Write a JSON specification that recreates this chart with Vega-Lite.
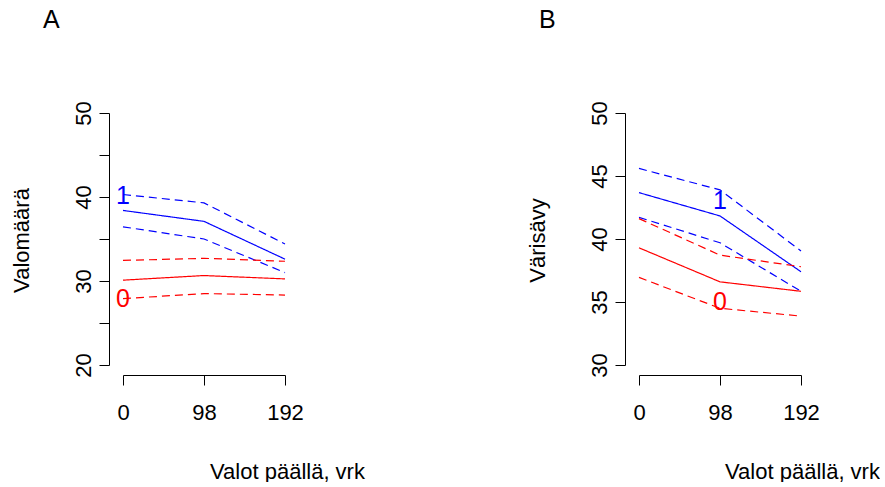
{
  "$schema": "https://vega.github.io/schema/vega-lite/v6.json",
  "padding": {"left": 10, "top": 7, "right": 0, "bottom": 0},
  "background": "white",
  "datasets": {
    "linjat": [
      {"paneeli": "A", "ryhma": "1", "tyyppi": "yla", "paiva": 0, "arvo": 40.3},
      {"paneeli": "A", "ryhma": "1", "tyyppi": "yla", "paiva": 98, "arvo": 39.3},
      {"paneeli": "A", "ryhma": "1", "tyyppi": "yla", "paiva": 192, "arvo": 34.4},
      {"paneeli": "A", "ryhma": "1", "tyyppi": "keski", "paiva": 0, "arvo": 38.4},
      {"paneeli": "A", "ryhma": "1", "tyyppi": "keski", "paiva": 98, "arvo": 37.1},
      {"paneeli": "A", "ryhma": "1", "tyyppi": "keski", "paiva": 192, "arvo": 32.6},
      {"paneeli": "A", "ryhma": "1", "tyyppi": "ala", "paiva": 0, "arvo": 36.45},
      {"paneeli": "A", "ryhma": "1", "tyyppi": "ala", "paiva": 98, "arvo": 35.0},
      {"paneeli": "A", "ryhma": "1", "tyyppi": "ala", "paiva": 192, "arvo": 31.0},
      {"paneeli": "A", "ryhma": "0", "tyyppi": "yla", "paiva": 0, "arvo": 32.45},
      {"paneeli": "A", "ryhma": "0", "tyyppi": "yla", "paiva": 98, "arvo": 32.7},
      {"paneeli": "A", "ryhma": "0", "tyyppi": "yla", "paiva": 192, "arvo": 32.35},
      {"paneeli": "A", "ryhma": "0", "tyyppi": "keski", "paiva": 0, "arvo": 30.1},
      {"paneeli": "A", "ryhma": "0", "tyyppi": "keski", "paiva": 98, "arvo": 30.65},
      {"paneeli": "A", "ryhma": "0", "tyyppi": "keski", "paiva": 192, "arvo": 30.25},
      {"paneeli": "A", "ryhma": "0", "tyyppi": "ala", "paiva": 0, "arvo": 27.9},
      {"paneeli": "A", "ryhma": "0", "tyyppi": "ala", "paiva": 98, "arvo": 28.5},
      {"paneeli": "A", "ryhma": "0", "tyyppi": "ala", "paiva": 192, "arvo": 28.33},
      {"paneeli": "B", "ryhma": "1", "tyyppi": "yla", "paiva": 0, "arvo": 45.6},
      {"paneeli": "B", "ryhma": "1", "tyyppi": "yla", "paiva": 98, "arvo": 43.9},
      {"paneeli": "B", "ryhma": "1", "tyyppi": "yla", "paiva": 192, "arvo": 39.05},
      {"paneeli": "B", "ryhma": "1", "tyyppi": "keski", "paiva": 0, "arvo": 43.68},
      {"paneeli": "B", "ryhma": "1", "tyyppi": "keski", "paiva": 98, "arvo": 41.83},
      {"paneeli": "B", "ryhma": "1", "tyyppi": "keski", "paiva": 192, "arvo": 37.4},
      {"paneeli": "B", "ryhma": "1", "tyyppi": "ala", "paiva": 0, "arvo": 41.72},
      {"paneeli": "B", "ryhma": "1", "tyyppi": "ala", "paiva": 98, "arvo": 39.7},
      {"paneeli": "B", "ryhma": "1", "tyyppi": "ala", "paiva": 192, "arvo": 35.85},
      {"paneeli": "B", "ryhma": "0", "tyyppi": "yla", "paiva": 0, "arvo": 41.62},
      {"paneeli": "B", "ryhma": "0", "tyyppi": "yla", "paiva": 98, "arvo": 38.72},
      {"paneeli": "B", "ryhma": "0", "tyyppi": "yla", "paiva": 192, "arvo": 37.8},
      {"paneeli": "B", "ryhma": "0", "tyyppi": "keski", "paiva": 0, "arvo": 39.3},
      {"paneeli": "B", "ryhma": "0", "tyyppi": "keski", "paiva": 98, "arvo": 36.6},
      {"paneeli": "B", "ryhma": "0", "tyyppi": "keski", "paiva": 192, "arvo": 35.85},
      {"paneeli": "B", "ryhma": "0", "tyyppi": "ala", "paiva": 0, "arvo": 36.95},
      {"paneeli": "B", "ryhma": "0", "tyyppi": "ala", "paiva": 98, "arvo": 34.5},
      {"paneeli": "B", "ryhma": "0", "tyyppi": "ala", "paiva": 192, "arvo": 33.88}
    ],
    "tekstit": [
      {"paneeli": "A", "ryhma": "1", "paiva": 0, "arvo": 40.1, "teksti": "1"},
      {"paneeli": "A", "ryhma": "0", "paiva": 0, "arvo": 27.8, "teksti": "0"},
      {"paneeli": "B", "ryhma": "1", "paiva": 98, "arvo": 43.0, "teksti": "1"},
      {"paneeli": "B", "ryhma": "0", "paiva": 98, "arvo": 35.0, "teksti": "0"}
    ]
  },
  "bounds": "flush",
  "spacing": 354,
  "hconcat": [
    {
      "width": 162,
      "height": 252,
      "title": {"text": "A", "anchor": "start", "frame": "group", "dx": -80, "offset": 48, "baseline": "alphabetic", "fontSize": 25, "fontWeight": "normal", "font": "Liberation Sans", "color": "black"},
      "layer": [
        {
          "data": {"name": "linjat"},
          "transform": [{"filter": "datum.paneeli == 'A'"}],
          "mark": {"type": "line", "strokeWidth": 1.2},
          "encoding": {
            "x": {"field": "paiva", "type": "ordinal", "scale": {"type": "point", "padding": 0},
              "axis": {"title": "Valot päällä, vrk", "labelAngle": 0, "offset": 10, "tickSize": 10, "labelPadding": 17, "labelBaseline": "top", "labelAlign": "center", "titleX": 164, "titleY": 103, "titleAlign": "center", "titleBaseline": "alphabetic"}},
            "y": {"field": "arvo", "type": "quantitative", "scale": {"domain": [20, 50], "zero": false, "nice": false},
              "axis": {"title": "Valomäärä", "values": [20, 25, 30, 35, 40, 45, 50], "labelExpr": "datum.value % 10 == 0 ? datum.label : ''", "offset": 14, "tickSize": 10, "labelPadding": 9, "labelAngle": 270, "labelAlign": "center", "labelBaseline": "alphabetic", "titleAngle": 270, "titleX": -81, "titleY": 127, "titleAlign": "center", "titleBaseline": "alphabetic"}},
            "color": {"field": "ryhma", "type": "nominal", "scale": {"domain": ["0", "1"], "range": ["#ff0000", "#0000ff"]}, "legend": null},
            "strokeDash": {"field": "tyyppi", "type": "nominal", "scale": {"domain": ["keski", "ala", "yla"], "range": [[1, 0], [8, 5], [8, 5]]}, "legend": null},
            "detail": {"field": "tyyppi", "type": "nominal"}
          }
        },
        {
          "data": {"name": "tekstit"},
          "transform": [{"filter": "datum.paneeli == 'A'"}],
          "mark": {"type": "text", "fontSize": 25, "font": "Liberation Sans", "baseline": "middle", "align": "center"},
          "encoding": {
            "x": {"field": "paiva", "type": "ordinal"},
            "y": {"field": "arvo", "type": "quantitative"},
            "text": {"field": "teksti"},
            "color": {"field": "ryhma", "type": "nominal", "legend": null}
          }
        }
      ]
    },
    {
      "width": 162,
      "height": 252,
      "title": {"text": "B", "anchor": "start", "frame": "group", "dx": -100, "offset": 48, "baseline": "alphabetic", "fontSize": 25, "fontWeight": "normal", "font": "Liberation Sans", "color": "black"},
      "layer": [
        {
          "data": {"name": "linjat"},
          "transform": [{"filter": "datum.paneeli == 'B'"}],
          "mark": {"type": "line", "strokeWidth": 1.2},
          "encoding": {
            "x": {"field": "paiva", "type": "ordinal", "scale": {"type": "point", "padding": 0},
              "axis": {"title": "Valot päällä, vrk", "labelAngle": 0, "offset": 10, "tickSize": 10, "labelPadding": 17, "labelBaseline": "top", "labelAlign": "center", "titleX": 163, "titleY": 103, "titleAlign": "center", "titleBaseline": "alphabetic"}},
            "y": {"field": "arvo", "type": "quantitative", "scale": {"domain": [30, 50], "zero": false, "nice": false},
              "axis": {"title": "Värisävy", "values": [30, 35, 40, 45, 50], "offset": 14, "tickSize": 10, "labelPadding": 9, "labelAngle": 270, "labelAlign": "center", "labelBaseline": "alphabetic", "titleAngle": 270, "titleX": -81, "titleY": 127, "titleAlign": "center", "titleBaseline": "alphabetic"}},
            "color": {"field": "ryhma", "type": "nominal", "scale": {"domain": ["0", "1"], "range": ["#ff0000", "#0000ff"]}, "legend": null},
            "strokeDash": {"field": "tyyppi", "type": "nominal", "scale": {"domain": ["keski", "ala", "yla"], "range": [[1, 0], [8, 5], [8, 5]]}, "legend": null},
            "detail": {"field": "tyyppi", "type": "nominal"}
          }
        },
        {
          "data": {"name": "tekstit"},
          "transform": [{"filter": "datum.paneeli == 'B'"}],
          "mark": {"type": "text", "fontSize": 25, "font": "Liberation Sans", "baseline": "middle", "align": "center"},
          "encoding": {
            "x": {"field": "paiva", "type": "ordinal"},
            "y": {"field": "arvo", "type": "quantitative"},
            "text": {"field": "teksti"},
            "color": {"field": "ryhma", "type": "nominal", "legend": null}
          }
        }
      ]
    }
  ],
  "config": {
    "view": {"stroke": null},
    "font": "Liberation Sans",
    "axis": {
      "grid": false,
      "domainColor": "black",
      "domainWidth": 1,
      "tickColor": "black",
      "tickWidth": 1,
      "labelColor": "black",
      "labelFont": "Liberation Sans",
      "labelFontSize": 22,
      "labelOverlap": false,
      "labelFlush": false,
      "titleColor": "black",
      "titleFont": "Liberation Sans",
      "titleFontSize": 22,
      "titleFontWeight": "normal"
    }
  }
}
